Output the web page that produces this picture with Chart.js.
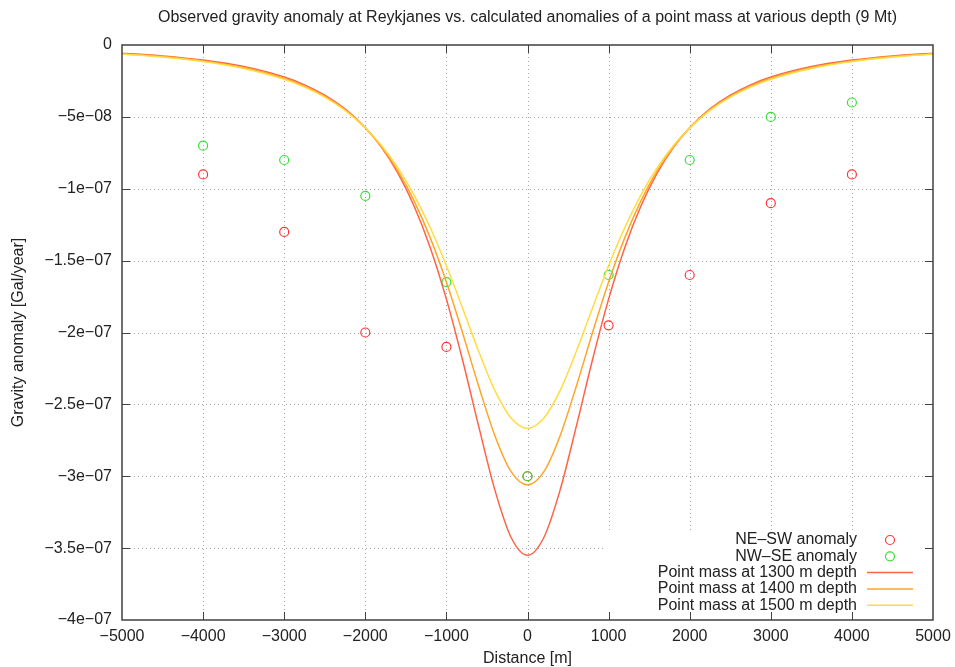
<!DOCTYPE html>
<html>
<head>
<meta charset="utf-8">
<script src="https://cdn.jsdelivr.net/npm/chart.js@4.4.0/dist/chart.umd.min.js"></script>
<style>
  html, body { margin: 0; padding: 0; background: #fff; }
  canvas { display: block; }
</style>
</head>
<body>
<canvas id="chart" width="955" height="667"></canvas>
<script>
// Observed stations (m) and anomalies (Gal/year)
const stationX = [-4000, -3000, -2000, -1000, 0, 1000, 2000, 3000, 4000];
const neSw = [-0.90e-7, -1.30e-7, -2.00e-7, -2.10e-7, -3.00e-7, -1.95e-7, -1.60e-7, -1.10e-7, -0.90e-7];
const nwSe = [-0.70e-7, -0.80e-7, -1.05e-7, -1.65e-7, -3.00e-7, -1.60e-7, -0.80e-7, -0.50e-7, -0.40e-7];

// Calculated point mass curves, read along the profile
const curveX = [-5000, -4500, -4000, -3500, -3000, -2750, -2500, -2250, -2000, -1800, -1600, -1400, -1200, -1000, -800, -600, -400, -200,
  0, 200, 400, 600, 800, 1000, 1200, 1400, 1600, 1800, 2000, 2250, 2500, 2750, 3000, 3500, 4000, 4500, 5000];
const depth1300 = [-0.0566e-7, -0.0759e-7, -0.1048e-7, -0.1499e-7, -0.2232e-7, -0.2771e-7, -0.3486e-7, -0.4445e-7, -0.5747e-7, -0.7126e-7,
  -0.8902e-7, -1.1186e-7, -1.4085e-7, -1.768e-7, -2.193e-7, -2.657e-7, -3.100e-7, -3.428e-7, -3.550e-7,
  -3.428e-7, -3.100e-7, -2.657e-7, -2.193e-7, -1.768e-7, -1.4085e-7, -1.1186e-7, -0.8902e-7, -0.7126e-7, -0.5747e-7,
  -0.4445e-7, -0.3486e-7, -0.2771e-7, -0.2232e-7, -0.1499e-7, -0.1048e-7, -0.0759e-7, -0.0566e-7];
const depth1400 = [-0.0600e-7, -0.0803e-7, -0.1104e-7, -0.1568e-7, -0.2315e-7, -0.2859e-7, -0.3571e-7, -0.4514e-7, -0.5773e-7, -0.7084e-7,
  -0.8741e-7, -1.0823e-7, -1.340e-7, -1.649e-7, -2.004e-7, -2.377e-7, -2.721e-7, -2.970e-7, -3.061e-7,
  -2.970e-7, -2.721e-7, -2.377e-7, -2.004e-7, -1.649e-7, -1.340e-7, -1.0823e-7, -0.8741e-7, -0.7084e-7, -0.5773e-7,
  -0.4514e-7, -0.3571e-7, -0.2859e-7, -0.2315e-7, -0.1568e-7, -0.1104e-7, -0.0803e-7, -0.0600e-7];
const depth1500 = [-0.0633e-7, -0.0843e-7, -0.1154e-7, -0.1630e-7, -0.2385e-7, -0.2928e-7, -0.3632e-7, -0.4551e-7, -0.5760e-7, -0.6997e-7,
  -0.8531e-7, -1.0419e-7, -1.270e-7, -1.536e-7, -1.832e-7, -2.134e-7, -2.406e-7, -2.597e-7, -2.667e-7,
  -2.597e-7, -2.406e-7, -2.134e-7, -1.832e-7, -1.536e-7, -1.270e-7, -1.0419e-7, -0.8531e-7, -0.6997e-7, -0.5760e-7,
  -0.4551e-7, -0.3632e-7, -0.2928e-7, -0.2385e-7, -0.1630e-7, -0.1154e-7, -0.0843e-7, -0.0633e-7];

// Axis ticks
const xTicks = [-5000, -4000, -3000, -2000, -1000, 0, 1000, 2000, 3000, 4000, 5000];
const xTickLabels = ['−5000', '−4000', '−3000', '−2000', '−1000', '0', '1000', '2000', '3000', '4000', '5000'];
const yTicks = [0, -0.5e-7, -1e-7, -1.5e-7, -2e-7, -2.5e-7, -3e-7, -3.5e-7, -4e-7];
const yTickLabels = ['0', '−5e−08', '−1e−07', '−1.5e−07', '−2e−07', '−2.5e−07', '−3e−07', '−3.5e−07', '−4e−07'];

const titleText = 'Observed gravity anomaly at Reykjanes vs. calculated anomalies of a point mass at various depth (9 Mt)';
const FONT = '"Liberation Sans", Arial, Helvetica, sans-serif';
const FONT_SIZE = 16;
const TEXT = '#222';

function pairs(xs, ys) {
    return xs.map((x, i) => ({ x: x, y: ys[i] }));
}

function nearestLabel(ticks, labels, value) {
    let best = 0;
    ticks.forEach((t, i) => { if (Math.abs(t - value) < Math.abs(ticks[best] - value)) best = i; });
    return labels[best];
}

// Grid, key background, frame, inward ticks, title and key (gnuplot look)
const gnuplotFrame = {
    id: 'gnuplotFrame',
    beforeDatasetsDraw(chart) {
        const { ctx, chartArea: a, scales: { x, y } } = chart;
        ctx.save();
        ctx.strokeStyle = '#a8a8a8';
        ctx.lineWidth = 1;
        ctx.setLineDash([1, 3]);
        ctx.beginPath();
        xTicks.slice(1, -1).forEach(v => {
            const px = Math.round(x.getPixelForValue(v)) + 0.5;
            ctx.moveTo(px, a.top);
            ctx.lineTo(px, a.bottom);
        });
        yTicks.slice(1, -1).forEach(v => {
            const py = Math.round(y.getPixelForValue(v)) + 0.5;
            ctx.moveTo(a.left, py);
            ctx.lineTo(a.right, py);
        });
        ctx.stroke();
        // opaque key box
        ctx.setLineDash([]);
        ctx.fillStyle = '#fff';
        ctx.fillRect(a.right - 328, a.bottom - 90, 328, 90);
        ctx.restore();
    },
    afterDraw(chart) {
        const { ctx, chartArea: a, scales: { x, y } } = chart;
        ctx.save();
        // frame
        ctx.strokeStyle = '#404040';
        ctx.lineWidth = 1.5;
        ctx.strokeRect(a.left, a.top, a.right - a.left, a.bottom - a.top);
        // inward tick marks on all four sides
        ctx.lineWidth = 1;
        ctx.beginPath();
        xTicks.slice(1, -1).forEach(v => {
            const px = Math.round(x.getPixelForValue(v)) + 0.5;
            ctx.moveTo(px, a.bottom); ctx.lineTo(px, a.bottom - 8);
            ctx.moveTo(px, a.top); ctx.lineTo(px, a.top + 8);
        });
        yTicks.slice(1, -1).forEach(v => {
            const py = Math.round(y.getPixelForValue(v)) + 0.5;
            ctx.moveTo(a.left, py); ctx.lineTo(a.left + 8, py);
            ctx.moveTo(a.right, py); ctx.lineTo(a.right - 8, py);
        });
        ctx.stroke();

        // title
        ctx.fillStyle = TEXT;
        ctx.font = FONT_SIZE + 'px ' + FONT;
        ctx.textAlign = 'center';
        ctx.textBaseline = 'middle';
        ctx.fillText(titleText, (a.left + a.right) / 2, 18);

        // key
        const textX = a.right - 76;
        chart.data.datasets.forEach((ds, i) => {
            const ry = a.bottom - 80 + i * 16.3;
            ctx.fillStyle = TEXT;
            ctx.textAlign = 'right';
            ctx.fillText(ds.label, textX, ry);
            ctx.strokeStyle = ds.borderColor;
            ctx.lineWidth = ds.borderWidth;
            ctx.beginPath();
            if (ds.showLine) {
                ctx.moveTo(a.right - 66, ry);
                ctx.lineTo(a.right - 20, ry);
            } else {
                ctx.arc(a.right - 43, ry, ds.pointRadius, 0, Math.PI * 2);
            }
            ctx.stroke();
        });
        ctx.restore();
    }
};

const pointStyle = (label, data, color, order) => ({
    label: label,
    data: data,
    showLine: false,
    borderColor: color,
    backgroundColor: 'rgba(0,0,0,0)',
    borderWidth: 1.2,
    pointRadius: 4.5,
    pointBorderWidth: 1.2,
    order: order
});

const lineStyle = (label, data, color, order) => ({
    label: label,
    data: data,
    showLine: true,
    borderColor: color,
    backgroundColor: color,
    borderWidth: 1.5,
    pointRadius: 0,
    cubicInterpolationMode: 'monotone',
    order: order
});

new Chart(document.getElementById('chart').getContext('2d'), {
    type: 'scatter',
    data: {
        datasets: [
            pointStyle('NE–SW anomaly', pairs(stationX, neSw), '#ff3535', 5),
            pointStyle('NW–SE anomaly', pairs(stationX, nwSe), '#35e035', 4),
            lineStyle('Point mass at 1300 m depth', pairs(curveX, depth1300), '#ff6347', 3),
            lineStyle('Point mass at 1400 m depth', pairs(curveX, depth1400), '#ffa526', 2),
            lineStyle('Point mass at 1500 m depth', pairs(curveX, depth1500), '#ffdc40', 1)
        ]
    },
    options: {
        responsive: false,
        animation: false,
        devicePixelRatio: 1,
        layout: { padding: { top: 45, right: 22, left: 0, bottom: 0 } },
        plugins: {
            legend: { display: false },
            tooltip: { enabled: false },
            title: { display: false }
        },
        scales: {
            x: {
                type: 'linear',
                min: -5000,
                max: 5000,
                afterBuildTicks: scale => { scale.ticks = xTicks.map(v => ({ value: v })); },
                afterFit: scale => {
                    scale.height = 47;
                    scale.paddingLeft = 0;
                    scale.paddingRight = 0;
                },
                grid: { display: false, drawTicks: false },
                border: { display: false },
                ticks: {
                    padding: 7,
                    color: TEXT,
                    font: { family: FONT, size: FONT_SIZE },
                    maxRotation: 0,
                    autoSkip: false,
                    callback: value => nearestLabel(xTicks, xTickLabels, value)
                },
                title: {
                    display: true,
                    text: 'Distance [m]',
                    color: TEXT,
                    font: { family: FONT, size: FONT_SIZE },
                    padding: { top: 0, bottom: -1 }
                }
            },
            y: {
                type: 'linear',
                min: -4e-7,
                max: 0,
                afterBuildTicks: scale => { scale.ticks = yTicks.map(v => ({ value: v })); },
                afterFit: scale => {
                    scale.width = 122;
                    scale.paddingTop = 0;
                    scale.paddingBottom = 0;
                },
                grid: { display: false, drawTicks: false },
                border: { display: false },
                ticks: {
                    padding: 10,
                    color: TEXT,
                    font: { family: FONT, size: FONT_SIZE },
                    autoSkip: false,
                    callback: value => nearestLabel(yTicks, yTickLabels, value)
                },
                title: {
                    display: true,
                    text: 'Gravity anomaly [Gal/year]',
                    color: TEXT,
                    font: { family: FONT, size: FONT_SIZE },
                    padding: { top: 9, bottom: 0 }
                }
            }
        }
    },
    plugins: [gnuplotFrame]
});
</script>
</body>
</html>
